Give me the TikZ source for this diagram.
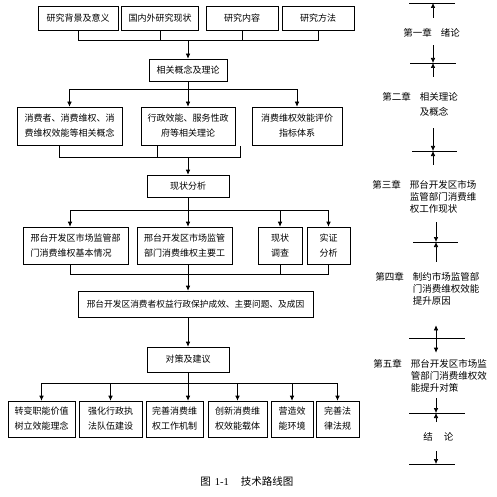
\documentclass[tikz,border=0pt]{standalone}
\usepackage{fontspec}
\setmainfont{Liberation Serif}
\newfontfamily\cjk{Noto Sans CJK SC}
\usetikzlibrary{arrows.meta}

\begin{document}
\begin{tikzpicture}[%
      x=1pt, y=-1pt,
      every node/.style={inner sep=0pt, font=\cjk\fontsize{9}{15}\selectfont},
      box/.style={draw, rectangle, align=center},
      chap/.style={anchor=base west, font=\cjk\fontsize{9.5}{12}\selectfont},
      line width=0.6pt, >={Latex[length=5pt,width=4.5pt]}
    ]
    \useasboundingbox (0,0) rectangle (496,497);
        \node [] (11) [box, minimum width=80pt, minimum height=24pt] at (78,18) {研究背景及意义};
        \node [] (12) [box, minimum width=77pt, minimum height=24pt] at (160,18) {国内外研究现状};
        \node [] (13) [box, minimum width=72pt, minimum height=24pt] at (242,18) {研究内容};
        \node [] (14) [box, minimum width=72pt, minimum height=24pt] at (318,18) {研究方法};
    \node [] (2) [box, minimum width=78pt, minimum height=22pt] at (188,70) {相关概念及理论};
    \node [] (31) [box, minimum width=105pt, minimum height=38pt] at (69.5,126) {消费者、消费维权、消\\费维权效能等相关概念};
    \node [] (32) [box, minimum width=94pt, minimum height=38pt] at (188,126) {行政效能、服务性政\\府等相关理论};
    \node [] (33) [box, minimum width=90pt, minimum height=38pt] at (297,126) {消费维权效能评价\\指标体系};
    \node [] (4) [box, minimum width=82pt, minimum height=22pt] at (188,186) {现状分析};
    \node [] (51) [box, align=left, minimum width=105pt, minimum height=37pt] at (75.5,245.5) {邢台开发区市场监管部\\门消费维权基本情况};
    \node [] (52) [box, align=left, minimum width=95pt, minimum height=37pt] at (184.5,245.5) {邢台开发区市场监管\\部门消费维权主要工};
    \node [] (53) [box, minimum width=44pt, minimum height=37pt] at (280,245.5) {现状\\调查};
    \node [] (54) [box, minimum width=43pt, minimum height=37pt] at (328.5,245.5) {实证\\分析};
    \node [] (6) [box, minimum width=235pt, minimum height=26pt, font=\cjk\fontsize{8.7}{15}\selectfont] at (195.5,304) {邢台开发区消费者权益行政保护成效、主要问题、及成因};
    \node [] (7) [box, minimum width=82pt, minimum height=25pt] at (188,359.5) {对策及建议};
    \node [] (81) [box, minimum width=67pt, minimum height=36pt] at (41.5,419) {转变职能价值\\树立效能理念};
    \node [] (82) [box, minimum width=63pt, minimum height=36pt] at (110.5,419) {强化行政执\\法队伍建设};
    \node [] (83) [box, minimum width=57pt, minimum height=36pt] at (174.5,419) {完善消费维\\权工作机制};
    \node [] (84) [box, minimum width=59pt, minimum height=36pt] at (237.5,419) {创新消费维\\权效能载体};
    \node [] (85) [box, minimum width=42pt, minimum height=36pt] at (292,419) {营造效\\能环境};
    \node [] (86) [box, minimum width=43pt, minimum height=36pt] at (337.5,419) {完善法\\律法规};

    \coordinate (b1) at (188,40.7);
    \coordinate (b2) at (188,89);
    \coordinate (b3) at (188,157);
    \coordinate (b4) at (188,210);
    \coordinate (b5) at (188,274);
    \coordinate (b6) at (188,383);
    \coordinate (f31) at ([xshift=-10.5pt]31.south);
    \coordinate (f32) at ([xshift=-31pt]32.south);
    \coordinate (f33) at (240,146);

    \draw (11.south) |- (14 |- b1) -- (14.south);
    \draw (12.south) -- (12 |- b1);
    \draw (13.south) -- (13 |- b1);
    \draw [->] (b1) -- (2);
    \draw (2) -- (b2);
    \draw [->] (b2) -| (31);
    \draw [->] (b2) -- (32);
    \draw [->] (b2) -| (33);
    \draw (f31) |- (f33 |- b3) -- (f33);
    \draw (f32) -- (f32 |- b3);
    \draw [->] (b3) -- (4);
    \draw (4) -- (b4);
    \draw [->] (b4) -| ([xshift=-5.5pt]51.north);
    \draw [->] (b4) -- (b4 |- 52.north);
    \draw [->] (b4) -| (53);
    \draw [->] (b4) -| (54);
    \draw ([xshift=-5.5pt]51.south) |- (54 |- b5) -- (54.south);
    \draw (b4 |- 52.south) -- (b5);
    \draw (53) -- (53 |- b5);
    \draw [->] (b5) -- (b5 |- 6.north);
    \draw [->] (b5 |- 6.south) -- (7);
    \draw (7) -- (b6);
    \draw [->] (b6) -| (81);
    \draw [->] (b6) -| (82);
    \draw [->] (b6) -- (b6 |- 83.north);
    \draw [->] (b6) -| (84);
    \draw [->] (b6) -| (85);
    \draw [->] (b6) -| (86);

    \node [] (91) [chap] at (403,36.4) {\begin{tabular}[t]{@{}l@{\hspace{9pt}}l@{}}第一章 & 绪论\end{tabular}};
    \node [] (92) [chap] at (382,100.4) {\begin{tabular}[t]{@{}l@{\hspace{9pt}}l@{}}第二章 & 相关理论\\[3pt] & 及概念\end{tabular}};
    \node [] (93) [chap] at (372,188.4) {\begin{tabular}[t]{@{}l@{\hspace{9pt}}l@{}}第三章 & 邢台开发区市场\\ & 监管部门消费维\\ & 权工作现状\end{tabular}};
    \node [] (94) [chap] at (375,280.4) {\begin{tabular}[t]{@{}l@{\hspace{9pt}}l@{}}第四章 & 制约市场监管部\\ & 门消费维权效能\\ & 提升原因\end{tabular}};
    \node [] (95) [chap] at (373,367.4) {\begin{tabular}[t]{@{}l@{\hspace{9pt}}l@{}}第五章 & 邢台开发区市场监\\ & 管部门消费维权效\\ & 能提升对策\end{tabular}};
    \node [] (96) [chap] at (423,440.4) {结\hspace{11pt}论};

    \coordinate (r0) at (433,3);
    \coordinate (r1) at (433,63);
    \coordinate (r2) at (433,151);
    \coordinate (r3) at (436,242);
    \coordinate (r4) at (436,338);
    \coordinate (r5) at (436,413);
    \coordinate (r6) at (436,464);
    \draw (409,3) -- (455,3);
    \draw (410,63) -- (456,63);
    \draw (412,151) -- (457,151);
    \draw (413,242) -- (458,242);
    \draw (409,338) -- (465,338);
    \draw (409,413) -- (465,413);
    \draw (409,464) -- (455,464);

    \draw [->, shorten <=10pt] (91.north -| r0) -- (r0);
    \draw [->, shorten <=5pt] (91.south -| r1) -- (r1);
    \draw [->, shorten <=15pt] (92.north -| r1) -- (r1);
    \draw [->, shorten <=9pt] (92.south -| r2) -- (r2);
    \draw [->, shorten <=15pt] (93.north -| r2) -- (r2);
    \draw [->, shorten <=6pt] (93.south -| r3) -- (r3);
    \draw [->, shorten <=10pt] (94.north -| r3) -- (r3);
    \draw [->, shorten >=17pt] (r4) -- (94.south -| r4);
    \draw [->, shorten >=6pt] (r4) -- (95.north -| r4);
    \draw [->, shorten <=3pt] (95.south -| r5) -- (r5);
    \draw [->, shorten <=10pt] (96.north -| r5) -- (r5);
    \draw [->, shorten <=10pt] (96.south -| r6) -- (r6);

    \node [] (0) [anchor=base west, font=\fontsize{10.5}{12}\selectfont] at (200,485.7) {{\cjk 图}\hspace{4pt}1-1\hspace{12pt}{\cjk 技术路线图}};
      \end{tikzpicture}
\end{document}
